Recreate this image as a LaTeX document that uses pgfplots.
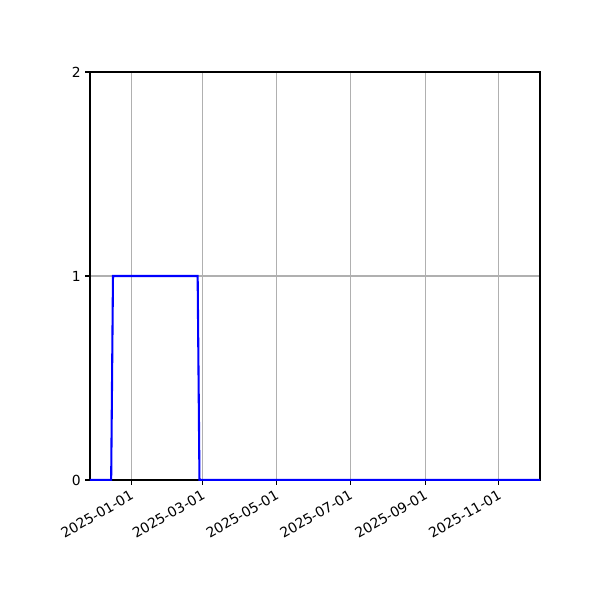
\documentclass[border=0pt]{standalone}
\usepackage{fontspec}
\setmainfont{DejaVu Sans}
\usepackage{pgfplots}
\pgfplotsset{compat=1.18}
\begin{document}
\begin{tikzpicture}
	% page frame: 600x600 px at 0.72pt per px
	\path (-64.8pt,-86.4pt) rectangle (367.2pt,345.6pt);
	\begin{axis}[
		at={(0pt,0pt)}, anchor=south west,
		scale only axis,
		width=324pt, height=293.76pt,
		xmin=-34, xmax=338,
		ymin=0, ymax=2,
		% days counted from 2025-01-01
		xtick={0,59,120,181,243,304},
		xticklabels={2025-01-01,2025-03-01,2025-05-01,2025-07-01,2025-09-01,2025-11-01},
		ytick={0,1,2},
		xmajorgrids=true, ymajorgrids=true,
		grid style={color=black!31, line width=0.8pt},
		axis line style={line width=0.8pt},
		tick style={black, line width=0.8pt},
		tick align=outside,
		major tick length=3.5pt,
		xtick pos=bottom, ytick pos=left,
		/pgf/number format/assume math mode=true,
		ticklabel style={font=\fontsize{10}{12}\selectfont},
		xticklabel style={rotate=30, anchor=north east, inner sep=1pt, yshift=-1pt, xshift=-1.5pt},
		yticklabel style={inner sep=3pt},
	]
	\addplot[color=blue, line width=1.5pt]
		coordinates {(-34,0)(-16.5,0)(-15,1)(55,1)(56.5,0)(338,0)};
	\end{axis}
\end{tikzpicture}
\end{document}
